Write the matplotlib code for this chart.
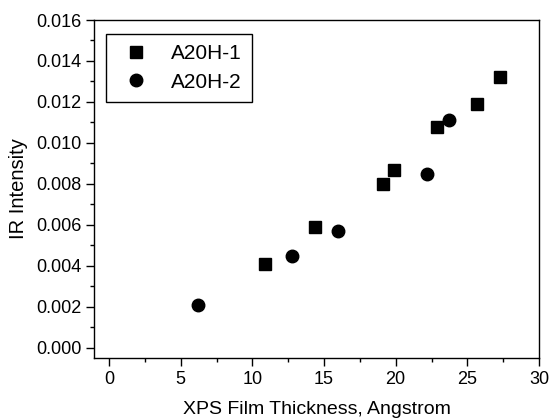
import matplotlib
matplotlib.use("Agg")
import matplotlib.pyplot as plt
from matplotlib.ticker import MultipleLocator, FormatStrFormatter

plt.rcParams['font.family'] = ['Liberation Sans', 'DejaVu Sans']

a1_x = [10.9, 14.4, 19.1, 19.9, 22.9, 25.7, 27.3]
a1_y = [0.0041, 0.0059, 0.0080, 0.0087, 0.0108, 0.0119, 0.0132]
a2_x = [6.2, 12.8, 16.0, 22.2, 23.7]
a2_y = [0.0021, 0.0045, 0.0057, 0.0085, 0.0111]

fig = plt.figure(figsize=(5.5, 4.18), dpi=100)
L, R, T, B = 94, 539, 20, 358
ax = fig.add_axes([L/550, 1 - B/418, (R-L)/550, (B-T)/418])

ax.plot(a1_x, a1_y, 's', color='black', markersize=8, label='A20H-1', linestyle='none')
ax.plot(a2_x, a2_y, 'o', color='black', markersize=9, label='A20H-2', linestyle='none')

ax.set_xlim(-1.05, 30)
ax.set_ylim(-0.00049, 0.016)
ax.xaxis.set_major_locator(MultipleLocator(5))
ax.xaxis.set_minor_locator(MultipleLocator(2.5))
ax.yaxis.set_major_locator(MultipleLocator(0.002))
ax.yaxis.set_minor_locator(MultipleLocator(0.001))
ax.yaxis.set_major_formatter(FormatStrFormatter('%.3f'))

ax.tick_params(which='both', direction='out', top=False, right=False, labelsize=13, width=1)
ax.tick_params(which='major', length=5.5)
ax.tick_params(which='minor', length=3)
for s in ax.spines.values():
    s.set_linewidth(1)

ax.set_xlabel('XPS Film Thickness, Angstrom', fontsize=14, labelpad=10)
ax.set_ylabel('IR Intensity', fontsize=14.5, labelpad=6)

leg = ax.legend(loc='upper left', bbox_to_anchor=(12/445, 1 - 14/338), fontsize=15,
                frameon=True, fancybox=False, edgecolor='black', framealpha=1,
                borderaxespad=0, handletextpad=0.75, borderpad=0.5, labelspacing=0.45,
                handlelength=1.85)
leg.get_frame().set_linewidth(1)

fig.savefig('out.png', dpi=100)
